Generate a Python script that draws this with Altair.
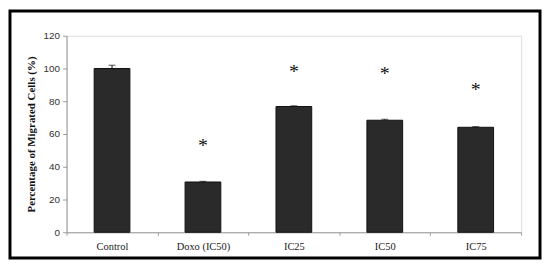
import altair as alt
import pandas as pd

categories = ["Control", "Doxo (IC50)", "IC25", "IC50", "IC75"]
values = [100, 30.7, 76.8, 68.4, 64.1]
errors = [2.0, 0.4, 0.4, 0.6, 0.4]
star_pos = [None, 55, 100, 99, 89]
y_ticks = [0, 20, 40, 60, 80, 100, 120]

df = pd.DataFrame({"cat": categories, "val": values, "err": errors,
                   "top": [v + e for v, e in zip(values, errors)]})
stars = pd.DataFrame({"cat": [c for c, s in zip(categories, star_pos) if s is not None],
                      "s": [s for s in star_pos if s is not None]})

W, H = 458, 198
PL, PT, PR, PB = 59, 27, 21, 28

xaxis = alt.Axis(title=None, labelAngle=0, tickBand="extent",
                 labelFont="Liberation Serif", labelFontSize=10.5,
                 labelColor="#222", domainColor="#999", tickColor="#999",
                 tickSize=3, labelPadding=6)
xscale = alt.Scale(paddingInner=0, paddingOuter=0)
yscale = alt.Scale(domain=[0, 120], nice=False)
yaxis = alt.Axis(values=y_ticks, title="Percentage of Migrated Cells (%)",
                 titleFont="Liberation Serif", titleFontSize=11, titleFontWeight="bold",
                 titleColor="#111", titlePadding=7, labelOverlap=False,
                 labelFont="Liberation Sans", labelFontSize=10, labelColor="#333",
                 domainColor="#999", tickColor="#999", tickSize=4, grid=False,
                 labelPadding=3)

def X():
    return alt.X("cat:N", sort=categories, scale=xscale, axis=xaxis)

def Y(field):
    return alt.Y(field, scale=yscale, axis=yaxis)

bars = alt.Chart(df).mark_bar(size=36, color="#2a2a2a", stroke="#111", strokeWidth=1).encode(
    x=X(), y=Y("val:Q"))

err_rule = alt.Chart(df).mark_rule(color="#111", strokeWidth=1).encode(
    x=X(), y=Y("val:Q"), y2="top:Q")
err_cap = alt.Chart(df).mark_tick(color="#111", thickness=1, size=7, orient="horizontal").encode(
    x=X(), y=Y("top:Q"))

star_text = alt.Chart(stars).mark_text(text="*", font="Liberation Serif", fontSize=20,
                                       baseline="middle", dy=4, color="#111").encode(
    x=X(), y=Y("s:Q"))

border = alt.Chart(pd.DataFrame({"a": [0]})).mark_rect(
    fill=None, stroke="#000", strokeWidth=3).encode(
    x=alt.value(-PL + 2), x2=alt.value(W + PR - 2),
    y=alt.value(-PT + 2), y2=alt.value(H + PB - 2))

chart = alt.layer(bars, err_rule, err_cap, star_text, border).properties(
    width=W, height=H,
    autosize=alt.AutoSizeParams(type="none"),
    padding={"left": PL, "top": PT, "right": PR, "bottom": PB},
).configure_view(stroke=None).configure(background="white")

chart.save("out.html", embed_options={"renderer": "svg", "actions": False})
